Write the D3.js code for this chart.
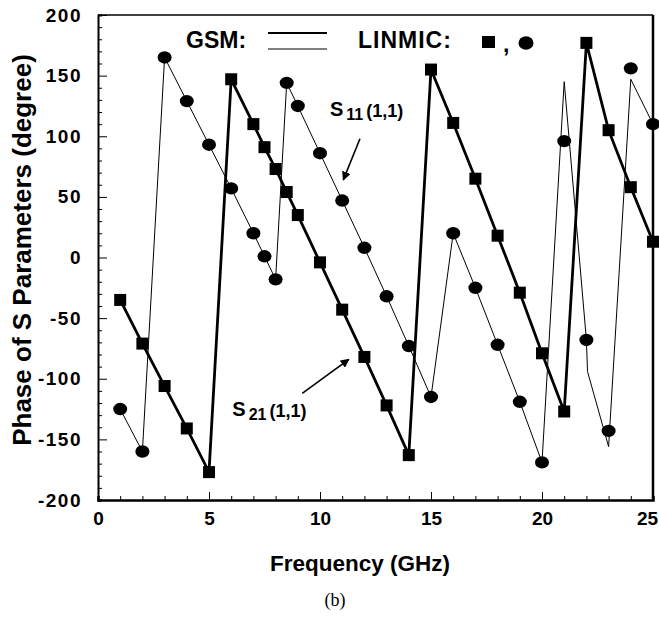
<!DOCTYPE html>
<html>
<head>
<meta charset="utf-8">
<script src="https://cdn.jsdelivr.net/npm/d3@7"></script>
<style>
  body { margin: 0; background: #fff; }
  svg text { font-family: "Liberation Sans", Arial, sans-serif; font-weight: bold; fill: #000; }
</style>
</head>
<body>
<div id="chart"></div>
<script>
// LINMIC markers (squares = S21, circles = S11)
const freqS21 = [1, 2, 3, 4, 5, 6, 7, 7.5, 8, 8.5, 9, 10, 11, 12, 13, 14, 15, 16, 17, 18, 19, 20, 21, 22, 23, 24, 25];
const linmicS21 = [-35, -71, -106, -141, -177, 147, 110, 91, 73, 54, 35, -4, -43, -82, -122, -163, 155, 111, 65, 18, -29, -79, -127, 177, 105, 58, 13];

const freqS11 = [1, 2, 3, 4, 5, 6, 7, 7.5, 8, 8.5, 9, 10, 11, 12, 13, 14, 15, 16, 17, 18, 19, 20, 21, 22, 23, 24, 25];
const linmicS11 = [-125, -160, 165, 129, 93, 57, 20, 1, -18, 144, 125, 86, 47, 8, -32, -73, -115, 20, -25, -72, -119, -169, 96, -68, -143, 156, 110];

// GSM curves
const gsmFreqS21 = freqS21;
const gsmS21 = [-35, -71, -106, -141, -177, 147, 110, 91, 73, 54, 35, -4, -43, -82, -122, -163, 155, 111, 65, 18, -29, -79, -127, 177, 105, 58, 13];
const gsmFreqS11 = [1, 2, 3, 4, 5, 6, 7, 7.5, 8, 8.5, 9, 10, 11, 12, 13, 14, 15, 16, 17, 18, 19, 20, 21, 22, 22.05, 23, 24, 25];
const gsmS11 = [-125, -160, 165, 129, 93, 57, 20, 1, -18, 144, 125, 86, 47, 8, -32, -73, -115, 20, -25, -72, -119, -169, 145, -68, -94, -156, 147, 110];

const xTickValues = [0, 5, 10, 15, 20, 25];
const yTickValues = [-200, -150, -100, -50, 0, 50, 100, 150, 200];

const W = 659, H = 617;
const svg = d3.select("#chart").append("svg")
  .attr("width", W).attr("height", H);

const x = d3.scaleLinear().domain([0, 25]).range([98, 653]);
const y = d3.scaleLinear().domain([-200, 200]).range([500, 15]);

// frame
svg.append("line").attr("x1", x(0)).attr("x2", x(25)).attr("y1", y(200)).attr("y2", y(200))
  .attr("stroke", "#000").attr("stroke-width", 1.5);
svg.append("line").attr("x1", x(25)).attr("x2", x(25)).attr("y1", y(200)).attr("y2", y(-200))
  .attr("stroke", "#000").attr("stroke-width", 2.5);

// x axis: major every 5, minor every 1, ticks inside
const xAxis = svg.append("g").attr("transform", `translate(0,${y(-200)})`)
  .call(d3.axisBottom(x).tickValues(d3.range(0, 26, 1)).tickSize(-4).tickPadding(12)
    .tickFormat(d => xTickValues.includes(d) ? d : ""));
xAxis.selectAll(".tick line").filter(d => d % 5 === 0).attr("y2", -8);
xAxis.select(".domain").attr("stroke-width", 2.5);
xAxis.selectAll("text").attr("font-size", 19).attr("dy", "0.71em");
// last label sits at the window edge, nudge it inside
xAxis.selectAll("text").filter(d => d === 25).attr("dx", -6);

// y axis: major every 50, minor every 10
const yAxis = svg.append("g").attr("transform", `translate(${x(0)},0)`)
  .call(d3.axisLeft(y).tickValues(d3.range(-200, 201, 10)).tickSize(-4).tickPadding(16)
    .tickFormat(d => yTickValues.includes(d) ? d : ""));
yAxis.selectAll(".tick line").filter(d => d % 50 === 0).attr("x2", 9);
yAxis.select(".domain").attr("stroke-width", 2);
yAxis.selectAll("text").attr("font-size", 19).attr("letter-spacing", 1.5);
svg.selectAll(".domain").attr("stroke", "#000");
svg.selectAll(".tick line").attr("stroke", "#000");

// GSM lines
const line = d3.line().x(d => x(d[0])).y(d => y(d[1]));
svg.append("path").datum(d3.zip(gsmFreqS11, gsmS11))
  .attr("d", line).attr("fill", "none").attr("stroke", "#000").attr("stroke-width", 1);
svg.append("path").datum(d3.zip(gsmFreqS21, gsmS21))
  .attr("d", line).attr("fill", "none").attr("stroke", "#000").attr("stroke-width", 2.8);

// LINMIC markers
svg.append("g").selectAll("rect").data(d3.zip(freqS21, linmicS21)).enter().append("rect")
  .attr("x", d => x(d[0]) - 6).attr("y", d => y(d[1]) - 6)
  .attr("width", 12).attr("height", 12).attr("fill", "#000");
svg.append("g").selectAll("ellipse").data(d3.zip(freqS11, linmicS11)).enter().append("ellipse")
  .attr("cx", d => x(d[0])).attr("cy", d => y(d[1]))
  .attr("rx", 7).attr("ry", 6.2).attr("fill", "#000");

// legend
svg.append("text").attr("x", 186).attr("y", 48).attr("font-size", 23).text("GSM:");
svg.append("line").attr("x1", 268).attr("x2", 327).attr("y1", 33).attr("y2", 33)
  .attr("stroke", "#000").attr("stroke-width", 2.2);
svg.append("line").attr("x1", 268).attr("x2", 327).attr("y1", 49).attr("y2", 49)
  .attr("stroke", "#000").attr("stroke-width", 1);
svg.append("text").attr("x", 358).attr("y", 48).attr("font-size", 23).attr("letter-spacing", 1).text("LINMIC:");
svg.append("rect").attr("x", 482).attr("y", 36).attr("width", 13).attr("height", 12).attr("fill", "#000");
svg.append("text").attr("x", 503).attr("y", 52).attr("font-size", 23).text(",");
svg.append("ellipse").attr("cx", 526).attr("cy", 43).attr("rx", 7.5).attr("ry", 6.8).attr("fill", "#000");

// annotations
const defs = svg.append("defs");
defs.append("marker").attr("id", "arr").attr("viewBox", "0 0 10 10")
  .attr("refX", 9).attr("refY", 5).attr("markerWidth", 9).attr("markerHeight", 9)
  .attr("markerUnits", "userSpaceOnUse").attr("orient", "auto")
  .append("path").attr("d", "M0,0L10,5L0,10z").attr("fill", "#000");

function label(fx, fy, sub) {
  const t = svg.append("text").attr("x", x(fx)).attr("y", y(fy));
  t.append("tspan").attr("font-size", 20).text("S");
  t.append("tspan").attr("font-size", 16).attr("dx", 3).attr("dy", 4).text(sub);
  t.append("tspan").attr("font-size", 18).attr("dx", 3).attr("dy", -3).text("(1,1)");
}
label(10.45, 117, "11");
label(6.05, -131, "21");

svg.append("line").attr("x1", x(11.8)).attr("y1", y(98)).attr("x2", x(11.05)).attr("y2", y(64))
  .attr("stroke", "#000").attr("stroke-width", 1.6).attr("marker-end", "url(#arr)");
svg.append("line").attr("x1", x(9.2)).attr("y1", y(-112)).attr("x2", x(11.3)).attr("y2", y(-84))
  .attr("stroke", "#000").attr("stroke-width", 1.6).attr("marker-end", "url(#arr)");

// axis titles
svg.append("text").attr("x", 360).attr("y", 571).attr("text-anchor", "middle")
  .attr("font-size", 22.5).text("Frequency (GHz)");
svg.append("text").attr("transform", "translate(31,250) rotate(-90)").attr("text-anchor", "middle")
  .attr("font-size", 26).text("Phase of S Parameters (degree)");

svg.append("text").attr("x", 335).attr("y", 606).attr("text-anchor", "middle")
  .style("font-family", "'Liberation Serif', 'Times New Roman', serif").style("font-weight", "normal")
  .attr("font-size", 18).text("(b)");
</script>
</body>
</html>
